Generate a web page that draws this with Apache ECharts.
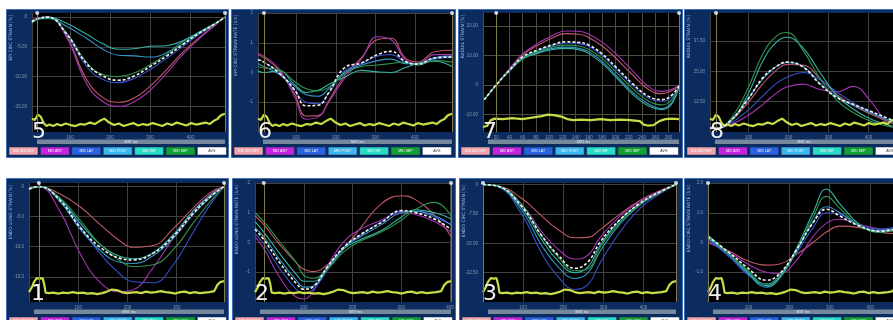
<!DOCTYPE html>
<html>
<head>
<meta charset="utf-8">
<script src="https://cdn.jsdelivr.net/npm/echarts@6/dist/echarts.min.js"></script>
<style>
  html, body { margin: 0; padding: 0; background: #ffffff; }
  #chart { width: 893px; height: 320px; }
</style>
</head>
<body>
<div id="chart"></div>
<script>
// segment names / colours (legend buttons under every panel)
const segNames = ['MID ANTSEP', 'MID ANT', 'MID LAT', 'MID POST', 'MID INF', 'MID SEP', 'AVG']
const segColors = ['#c05866', '#a534b4', '#3450c8', '#3494c4', '#34b4a4', '#2e944c']
const btnColors = ['#f2a2aa', '#c424dc', '#2a62e0', '#3cb8ee', '#2adcc8', '#14a034', '#ffffff']

// ---- panel 5 : EPI CIRC STRAIN [%]
const t5 = [5, 18, 45, 90, 140, 180, 220, 260, 300, 340, 380, 420, 460, 487]
const avg5 = [-0.8, -0.3, 0, -2.7, -7.7, -9.8, -10.6, -9.9, -8.3, -6.6, -4.7, -2.8, -1.2, 0]
const pink5 = [-0.7, -0.2, 0, -3.0, -10.3, -13.4, -14.3, -13.6, -11.6, -8.9, -6.0, -3.6, -1.4, 0]
const mag5 = [-0.6, -0.2, 0, -3.2, -11.0, -14.1, -15.0, -14.2, -12.3, -9.5, -6.4, -3.8, -1.5, 0]
const blue5 = [-0.9, -0.4, -0.1, -2.8, -8.2, -10.4, -11.0, -10.3, -8.8, -7.0, -5.0, -3.0, -1.3, 0]
const lb5 = [-0.8, -0.3, -0.2, -1.5, -3.5, -5.3, -6.4, -6.5, -6.7, -6.0, -4.2, -2.6, -1.2, 0]
const aqua5 = [-0.7, -0.3, 0, -1.0, -2.8, -4.4, -5.4, -5.3, -4.9, -4.8, -4.0, -2.6, -1.1, 0]
const green5 = [-1.0, -0.4, -0.1, -2.5, -7.5, -9.6, -10.0, -9.4, -8.0, -6.3, -4.5, -2.8, -1.2, 0]
const yTicks5 = [-15, -10, -5, 0]

// ---- panel 6 : EPI CIRC STRAIN RATE [1/s]
const t6 = [3, 18, 55, 95, 125, 155, 182, 222, 265, 305, 340, 375, 408, 450, 494]
const avg6 = [0.43, 0.35, 0.0, -0.57, -1.12, -1.1, -0.68, 0.16, 0.32, 0.6, 0.71, 0.38, 0.28, 0.49, 0.52]
const pink6 = [0.6, 0.5, 0.1, -0.7, -1.46, -1.45, -0.95, -0.1, 0.5, 1.1, 1.15, 0.5, 0.35, 0.7, 0.75]
const mag6 = [0.65, 0.55, 0.15, -0.8, -1.57, -1.5, -1.0, -0.2, 0.45, 1.2, 1.1, 0.45, 0.3, 0.6, 0.6]
const blue6 = [0.45, 0.35, 0.0, -0.6, -1.0, -1.05, -0.7, 0.05, 0.3, 0.55, 0.6, 0.35, 0.25, 0.45, 0.5]
const lb6 = [0.3, 0.2, -0.05, -0.45, -0.75, -0.8, -0.55, 0.0, 0.25, 0.4, 0.45, 0.3, 0.3, 0.5, 0.55]
const aqua6 = [0.05, 0.0, 0.06, -0.4, -0.67, -0.6, -0.4, -0.16, 0.07, 0.02, 0.0, 0.16, 0.3, 0.38, 0.2]
const green6 = [0.2, 0.15, 0.1, -0.3, -0.55, -0.62, -0.5, -0.05, 0.2, 0.25, 0.3, 0.35, 0.25, 0.4, 0.35]
const yTicks6 = [-1, 0, 1, 2]

// ---- panel 7 : RADIAL STRAIN [%]
const t7 = [2, 20, 40, 60, 82, 105, 125, 145, 160, 180, 200, 225, 250, 270, 285, 296]
const avg7 = [-5.0, 0, 5.0, 9.5, 11.8, 13.6, 14.6, 14.4, 13.5, 10.5, 6.2, 0.6, -3.9, -5.0, -3.5, -0.3]
const pink7 = [-5.0, 0, 5.3, 10.2, 13.4, 16.0, 17.4, 17.2, 16.0, 13.2, 9.2, 3.6, -1.6, -3.0, -2.0, -0.3]
const mag7 = [-5.0, 0, 5.5, 10.5, 14.0, 16.8, 18.3, 18.2, 17.2, 14.5, 10.7, 5.0, -0.6, -2.2, -1.5, -0.3]
const blue7 = [-5.0, 0, 5.0, 9.3, 11.6, 13.4, 14.2, 14.0, 13.0, 10.0, 5.6, 0.0, -4.5, -5.6, -4.0, -0.3]
const lb7 = [-5.0, 0, 4.8, 9.0, 11.0, 12.4, 12.8, 12.4, 11.2, 8.0, 3.5, -2.3, -6.5, -8.0, -6.0, -0.3]
const aqua7 = [-5.0, 0, 4.7, 8.8, 10.7, 12.0, 12.4, 11.9, 10.6, 7.3, 2.8, -3.0, -7.2, -8.4, -6.5, -0.3]
const green7 = [-5.0, 0, 4.9, 9.2, 11.3, 12.9, 13.5, 13.2, 12.0, 9.0, 4.6, -1.0, -5.5, -6.8, -5.0, -0.3]
const yTicks7 = [-10, 0, 10, 20]

// ---- panel 8 : RADIAL STRAIN [%]
const t8 = [4, 19, 54, 96, 137, 170, 196, 237, 279, 321, 362, 404, 446, 461]
const avg8 = [1.7, 1.5, 4.5, 12.8, 22.5, 27.0, 28.8, 26.7, 19.7, 14.2, 11.4, 8.6, 5.8, 4.8]
const pink8 = [1.7, 1.5, 4.2, 11.5, 20.0, 25.5, 27.8, 27.5, 22.0, 15.5, 11.0, 7.5, 4.5, 3.5]
const mag8 = [2.0, 1.8, 3.0, 6.5, 11.5, 16.0, 18.5, 19.7, 17.5, 16.5, 18.8, 13.0, 3.5, 2.0]
const blue8 = [1.9, 1.7, 3.5, 8.5, 15.0, 20.0, 22.5, 24.5, 21.5, 16.5, 12.0, 8.5, 5.0, 4.0]
const lb8 = [1.8, 1.6, 4.6, 13.0, 22.0, 27.0, 28.5, 27.0, 20.0, 14.5, 11.0, 8.0, 5.0, 4.0]
const aqua8 = [1.6, 1.4, 4.0, 14.5, 29.5, 37.0, 39.0, 34.5, 24.5, 15.0, 9.5, 5.5, 3.0, 2.5]
const green8 = [1.5, 1.3, 5.0, 17.0, 32.4, 39.5, 41.0, 33.5, 22.0, 13.0, 8.0, 4.5, 2.5, 2.0]
const yTicks8 = [12.5, 25, 37.5]

// ---- panel 1 : ENDO LONG STRAIN [%]
const t1 = [0, 20, 62, 103, 143, 184, 211, 252, 293, 334, 368, 396]
const avg1 = [-0.4, 0, -2.2, -6.7, -10.0, -11.9, -12.2, -11.1, -8.3, -4.4, -1.7, 0]
const pink1 = [-0.2, 0, -1.2, -3.3, -6.2, -9.0, -10.1, -9.8, -7.0, -3.5, -1.0, 0]
const mag1 = [-0.3, 0, -4.0, -11.0, -15.8, -17.5, -17.2, -13.5, -8.5, -4.0, -1.3, 0]
const blue1 = [-0.5, 0, -2.0, -6.5, -11.0, -14.5, -15.8, -16.0, -13.0, -7.5, -3.0, 0]
const lb1 = [-0.4, 0, -2.4, -7.0, -10.5, -12.6, -12.8, -11.5, -8.6, -4.6, -1.8, 0]
const aqua1 = [-0.4, 0, -2.0, -6.0, -9.5, -11.6, -12.0, -11.0, -8.0, -4.0, -1.5, 0]
const green1 = [-0.5, 0, -1.8, -5.5, -9.5, -12.3, -13.3, -13.0, -10.5, -6.0, -2.5, 0]
const yTicks1 = [-15, -10, -5, 0]

// ---- panel 2 : ENDO LONG STRAIN RATE [1/s]
const t2 = [0, 18, 52, 86, 100, 121, 148, 183, 217, 259, 300, 328, 369, 402]
const avg2 = [0.44, 0.1, -0.71, -1.4, -1.57, -1.46, -0.83, -0.14, 0.27, 0.67, 1.07, 1.01, 0.78, 0.44]
const pink2 = [0.9, 0.6, -0.1, -0.7, -0.9, -0.98, -0.75, -0.2, 0.5, 1.3, 1.57, 1.45, 0.9, 0.2]
const mag2 = [0.2, -0.2, -1.2, -1.85, -1.9, -1.6, -0.8, 0.05, 0.45, 0.75, 1.0, 0.95, 0.7, 0.35]
const blue2 = [0.3, -0.05, -0.9, -1.6, -1.72, -1.55, -0.95, -0.2, 0.25, 0.7, 1.05, 1.05, 0.85, 0.6]
const lb2 = [0.5, 0.2, -0.6, -1.3, -1.5, -1.45, -0.9, -0.15, 0.2, 0.6, 1.0, 1.05, 0.9, 0.6]
const aqua2 = [0.7, 0.35, -0.4, -1.1, -1.3, -1.3, -0.85, -0.2, 0.1, 0.4, 0.85, 1.1, 1.0, 0.8]
const green2 = [1.0, 0.7, 0.0, -0.7, -1.1, -1.2, -0.9, -0.3, 0.05, 0.35, 0.75, 1.1, 1.35, 0.9]
const yTicks2 = [-1, 0, 1, 2]

// ---- panel 3 : ENDO CIRC STRAIN [%]
const t3 = [0, 37, 96, 146, 187, 229, 262, 292, 342, 392, 442, 481]
const avg3 = [0, -0.4, -5.5, -13.0, -18.0, -21.4, -19.7, -14.7, -8.9, -4.7, -1.8, 0]
const pink3 = [0, -0.3, -3.5, -8.0, -11.5, -13.6, -13.5, -11.5, -7.5, -4.0, -1.5, 0]
const mag3 = [0, -0.4, -5.0, -12.0, -16.5, -19.0, -18.0, -13.5, -8.0, -4.2, -1.6, 0]
const blue3 = [0, -0.5, -7.5, -17.5, -23.5, -26.8, -25.5, -20.0, -12.0, -6.0, -2.3, 0]
const lb3 = [0, -0.5, -6.5, -15.5, -21.0, -24.0, -22.5, -17.0, -10.0, -5.2, -2.0, 0]
const aqua3 = [0, -0.4, -5.8, -14.0, -19.5, -22.5, -21.0, -15.5, -9.0, -4.8, -1.9, 0]
const green3 = [0, -0.4, -5.0, -13.0, -18.5, -22.0, -21.5, -16.0, -9.5, -5.0, -2.0, 0]
const yTicks3 = [-22.5, -15, -7.5, 0]

// ---- panel 4 : ENDO CIRC STRAIN RATE [1/s]
const t4 = [0, 54, 95, 144, 177, 218, 259, 292, 325, 374, 424, 456]
const avg4 = [0.2, -0.36, -0.82, -1.27, -1.04, -0.25, 0.66, 1.12, 0.89, 0.55, 0.38, 0.44]
const pink4 = [0.0, -0.3, -0.6, -0.76, -0.72, -0.4, 0.0, 0.35, 0.55, 0.5, 0.35, 0.3]
const mag4 = [0.0, -0.35, -0.7, -1.0, -1.04, -0.6, 0.2, 0.65, 0.78, 0.6, 0.45, 0.4]
const blue4 = [0.1, -0.5, -1.05, -1.4, -1.1, -0.35, 0.5, 1.0, 0.95, 0.6, 0.45, 0.5]
const lb4 = [0.15, -0.45, -1.0, -1.5, -1.2, -0.3, 0.7, 1.2, 1.0, 0.55, 0.4, 0.45]
const aqua4 = [0.25, -0.4, -0.95, -1.45, -1.15, -0.2, 1.0, 1.8, 1.3, 0.6, 0.35, 0.4]
const green4 = [0.2, -0.4, -0.9, -1.4, -1.1, -0.25, 0.85, 1.55, 1.15, 0.55, 0.35, 0.4]
const yTicks4 = [-1, 0, 1, 2]

// ECG traces, x in % of the cycle
const ecgTopX = [0, 1.5, 3, 4.5, 6, 7.5, 9, 11, 13, 15, 17.5, 20, 22.5, 25, 27.5, 30, 32.5, 35, 37.5, 40, 42.5, 45, 47.5, 50, 52.5, 55, 57.5, 60, 62.5, 65, 67.5, 70, 72.5, 75, 77.5, 80, 82.5, 85, 87.5, 90, 92, 94, 96, 98, 100]
const ecgTopV = [1.35, 1.2, 1.75, 1.55, 0.9, 0.6, 0.75, 0.6, 0.8, 0.65, 0.85, 0.7, 0.6, 0.8, 0.75, 0.95, 0.8, 1.1, 1.35, 0.95, 0.7, 0.85, 0.6, 0.75, 0.9, 0.65, 0.8, 0.7, 0.9, 0.75, 0.6, 0.85, 0.7, 0.95, 0.8, 0.65, 0.9, 0.75, 0.85, 0.95, 0.8, 1.1, 1.3, 1.7, 1.85]
const ecg7X = [0, 2, 4, 6, 10, 15, 20, 25, 30, 33, 36, 40, 43, 46, 50, 55, 60, 65, 70, 75, 80, 82, 84, 87, 90, 93, 96, 100]
const ecg7V = [0.5, 0.6, 1.2, 1.35, 1.3, 1.4, 1.3, 1.45, 1.6, 1.75, 1.7, 1.55, 1.3, 1.2, 1.25, 1.2, 1.3, 1.2, 1.25, 1.2, 1.1, 0.75, 0.65, 0.7, 1.1, 1.3, 1.35, 1.3]
const ecgBotX = [0, 1.5, 2.5, 4, 5.5, 7, 7.8, 8.5, 10, 12.5, 15, 17.5, 20, 22.5, 25, 27.5, 30, 32.5, 35, 37.5, 40, 42.5, 45, 47.5, 50, 52.5, 55, 57.5, 60, 62.5, 65, 67.5, 70, 72.5, 75, 77.5, 80, 82.5, 85, 87.5, 90, 92.5, 95, 96.5, 98, 100]
const ecgBotV = [1.0, 1.5, 2.0, 2.4, 2.35, 2.4, 1.8, 0.95, 0.9, 0.95, 0.85, 0.95, 0.9, 1.0, 0.9, 0.95, 0.85, 0.9, 0.8, 0.9, 1.05, 1.25, 1.2, 1.0, 0.9, 0.95, 1.0, 0.9, 1.05, 0.95, 1.0, 1.1, 1.0, 0.95, 0.85, 1.0, 1.05, 0.9, 1.0, 0.9, 0.95, 1.0, 1.1, 1.7, 2.0, 2.1]

// panel layout (pixels) + which data goes where
const panels = [
  { num: '5', frame: [6, 9, 222, 148], plot: [32, 13, 193, 119], t: t5, seg: [pink5, mag5, blue5, lb5, aqua5, green5], avg: avg5,
    x: [5, 487], y: [-19.3, 0.7], yTicks: yTicks5, digits: 2, yName: 'EPI CIRC STRAIN [%]', markers: [18, 487], ecg: [ecgTopX, ecgTopV], ecgMax: 100 },
  { num: '6', frame: [231, 9, 224, 148], plot: [258, 13, 194, 119], t: t6, seg: [pink6, mag6, blue6, lb6, aqua6, green6], avg: avg6,
    x: [3, 494], y: [-2, 2], yTicks: yTicks6, digits: 0, yName: 'EPI CIRC STRAIN RATE [1/s]', markers: [18, 494], ecg: [ecgTopX, ecgTopV], ecgMax: 100 },
  { num: '7', frame: [458, 9, 224, 148], plot: [483, 13, 196, 119], t: t7, seg: [pink7, mag7, blue7, lb7, aqua7, green7], avg: avg7,
    x: [0, 296], xInterval: 20, y: [-16, 24.4], yTicks: yTicks7, digits: 2, yName: 'RADIAL STRAIN [%]', markers: [20, 296], ecg: [ecg7X, ecg7V], ecgMax: 100, dense: true },
  { num: '8', frame: [684, 9, 222, 148], plot: [710, 13, 183, 119], t: t8, seg: [pink8, mag8, blue8, lb8, aqua8, green8], avg: avg8,
    x: [4, 461.5], y: [0, 49], yTicks: yTicks8, digits: 2, yName: 'RADIAL STRAIN [%]', markers: [19], ecg: [ecgTopX, ecgTopV], ecgMax: 95 },
  { num: '1', frame: [6, 178, 222, 150], plot: [29, 183, 195, 119], t: t1, seg: [pink1, mag1, blue1, lb1, aqua1, green1], avg: avg1,
    x: [0, 396], xInterval: 100, y: [-19.2, 0.6], yTicks: yTicks1, digits: 1, yName: 'ENDO LONG STRAIN [%]', markers: [20, 396], ecg: [ecgBotX, ecgBotV], ecgMax: 100 },
  { num: '2', frame: [232, 178, 223, 150], plot: [255, 183, 196, 119], t: t2, seg: [pink2, mag2, blue2, lb2, aqua2, green2], avg: avg2,
    x: [0, 402], xInterval: 100, y: [-2, 2], yTicks: yTicks2, digits: 0, yName: 'ENDO LONG STRAIN RATE [1/s]', markers: [18, 402], ecg: [ecgBotX, ecgBotV], ecgMax: 100 },
  { num: '3', frame: [459, 178, 223, 150], plot: [483, 183, 193, 119], t: t3, seg: [pink3, mag3, blue3, lb3, aqua3, green3], avg: avg3,
    x: [0, 481], xInterval: 100, y: [-30, 0.4], yTicks: yTicks3, digits: 2, yName: 'ENDO CIRC STRAIN [%]', markers: [0, 481], ecg: [ecgBotX, ecgBotV], ecgMax: 100 },
  { num: '4', frame: [684, 178, 222, 150], plot: [708, 183, 185, 119], t: t4, seg: [pink4, mag4, blue4, lb4, aqua4, green4], avg: avg4,
    x: [0, 456], xInterval: 100, y: [-2, 2], yTicks: yTicks4, digits: 1, yName: 'ENDO CIRC STRAIN RATE [1/s]', markers: [0], ecg: [ecgBotX, ecgBotV], ecgMax: 95 }
]

const chart = echarts.init(document.getElementById('chart'), null, { renderer: 'canvas' })

const grid = []
const xAxis = []
const yAxis = []
const series = []
const graphic = []

panels.forEach((p, i) => {
  const [pl, pt, pw, ph] = p.plot
  const [fx, fy, fw, fh] = p.frame
  const gridLineColor = p.dense ? '#4e4e3e' : '#404040'

  grid.push({ left: pl, top: pt, width: pw, height: ph, show: true, backgroundColor: '#000000', borderWidth: 0 })

  const xMain = {
    gridIndex: i, type: 'value', min: p.x[0], max: p.x[1], splitNumber: 5,
    axisLine: { show: false }, axisTick: { show: false },
    splitLine: { show: true, lineStyle: { color: gridLineColor, width: 1 } },
    axisLabel: { color: '#8a98ac', fontSize: 4.5, margin: 3, showMinLabel: false, showMaxLabel: false }
  }
  if (p.xInterval) xMain.interval = p.xInterval
  xAxis.push(xMain)
  xAxis.push({ gridIndex: i, type: 'value', min: 0, max: p.ecgMax, show: false })

  yAxis.push({
    gridIndex: i, type: 'value', min: p.y[0], max: p.y[1],
    axisLine: { show: false },
    axisTick: { show: false, customValues: p.yTicks },
    splitLine: { show: true, lineStyle: { color: gridLineColor, width: 1 } },
    axisLabel: {
      color: '#8a98ac', fontSize: 4.5, margin: 5, customValues: p.yTicks,
      formatter: (v) => v === 0 ? '0' : v.toFixed(p.digits)
    }
  })
  yAxis.push({ gridIndex: i, type: 'value', min: 0, max: 12, show: false })

  const xi = 2 * i
  p.seg.forEach((vals, k) => {
    series.push({
      type: 'line', xAxisIndex: xi, yAxisIndex: xi, silent: true,
      data: p.t.map((t, j) => [t, vals[j]]),
      smooth: 0.45, symbol: 'none',
      lineStyle: { color: segColors[k], width: 1.1 }, z: 2
    })
  })
  // average curve, with the event markers (vertical lines)
  series.push({
    type: 'line', xAxisIndex: xi, yAxisIndex: xi, silent: true,
    data: p.t.map((t, j) => [t, p.avg[j]]),
    smooth: 0.45, symbol: 'none',
    lineStyle: { color: '#f2f2f2', width: 1.6, type: [3, 2] }, z: 4,
    markLine: {
      silent: true, symbol: 'none', animation: false,
      label: { show: false },
      lineStyle: { color: '#7e7a4c', width: 1, type: 'solid' },
      data: p.markers.map((m) => ({ xAxis: m }))
    }
  })
  series.push({
    type: 'scatter', xAxisIndex: xi, yAxisIndex: xi, silent: true, clip: false,
    data: p.markers.map((m) => [m, p.y[1]]),
    symbolSize: 4, itemStyle: { color: '#ffffff' }, z: 5
  })
  series.push({
    type: 'line', xAxisIndex: xi + 1, yAxisIndex: xi + 1, silent: true,
    data: p.ecg[0].map((x, j) => [x, p.ecg[1][j]]),
    symbol: 'none', lineStyle: { color: '#c8dc48', width: 2.2 }, z: 3
  })

  // frame + decorations
  graphic.push({ type: 'rect', z: -10, shape: { x: fx + 0.5, y: fy + 0.5, width: fw, height: fh },
    style: { fill: '#0c2c60', stroke: '#3f6fb4', lineWidth: 1 } })
  graphic.push({ type: 'text', z: 10, x: fx + 4.5, y: pt + 2, rotation: Math.PI / 2,
    style: { text: p.yName, fontSize: 4.5, fill: '#a4bce0', align: 'right', verticalAlign: 'middle', fontFamily: 'DejaVu Sans' } })
  const barY = pt + ph + 7.5
  graphic.push({ type: 'rect', z: 10, shape: { x: pl + 5, y: barY, width: pw - 5, height: 4.5 },
    style: { fill: '#76889b' } })
  graphic.push({ type: 'text', z: 11, x: pl + 2.5 + pw / 2, y: barY + 2.3,
    style: { text: 'MST ms', fontSize: 3.5, fill: '#e8eef4', align: 'center', verticalAlign: 'middle' } })
  const btnY = pt + ph + 15
  segNames.forEach((name, k) => {
    const bx = fx + 3 + k * 31.4
    graphic.push({ type: 'rect', z: 10, shape: { x: bx, y: btnY, width: 29, height: 8 },
      style: { fill: btnColors[k], stroke: '#0a2450', lineWidth: 0.5 } })
    graphic.push({ type: 'text', z: 11, x: bx + 14.5, y: btnY + 4,
      style: { text: name, fontSize: 3.5, fill: k === 6 ? '#333333' : '#f4f4f4', align: 'center', verticalAlign: 'middle' } })
  })
  graphic.push({ type: 'text', z: 100, x: pl + (p.num === '1' ? 2 : 0), y: pt + ph + (i < 4 ? 11 : 3),
    style: { text: p.num, fontSize: 22, fill: '#f2f2f2', align: 'left', verticalAlign: 'bottom', fontFamily: 'DejaVu Sans' } })
})

const option = {
  animation: false,
  backgroundColor: '#ffffff',
  grid,
  xAxis,
  yAxis,
  series,
  graphic: { elements: graphic }
}

if (option && typeof option === 'object') {
  chart.setOption(option, true)
}
</script>
</body>
</html>
